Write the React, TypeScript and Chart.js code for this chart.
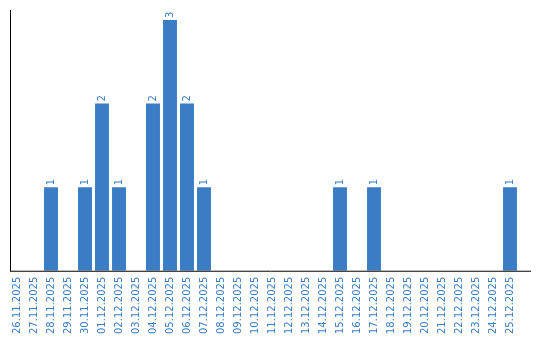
import React, { useEffect, useRef } from "react";
import { Chart, registerables } from "chart.js";

Chart.register(...registerables);

const dates: string[] = [
  "26.11.2025", "27.11.2025", "28.11.2025", "29.11.2025", "30.11.2025",
  "01.12.2025", "02.12.2025", "03.12.2025", "04.12.2025", "05.12.2025",
  "06.12.2025", "07.12.2025", "08.12.2025", "09.12.2025", "10.12.2025",
  "11.12.2025", "12.12.2025", "13.12.2025", "14.12.2025", "15.12.2025",
  "16.12.2025", "17.12.2025", "18.12.2025", "19.12.2025", "20.12.2025",
  "21.12.2025", "22.12.2025", "23.12.2025", "24.12.2025", "25.12.2025",
];

const counts: number[] = [
  0, 0, 1, 0, 1,
  2, 1, 0, 2, 3,
  2, 1, 0, 0, 0,
  0, 0, 0, 0, 1,
  0, 1, 0, 0, 0,
  0, 0, 0, 0, 1,
];

const BLUE = "#3a7dc4";
const FONT = "'DejaVu Sans', Verdana, sans-serif";

const valueLabels = {
  id: "valueLabels",
  afterDatasetsDraw(chart: any) {
    const ctx = chart.ctx;
    const meta = chart.getDatasetMeta(0);
    const data = chart.data.datasets[0].data as number[];
    ctx.save();
    ctx.fillStyle = BLUE;
    ctx.font = `10px ${FONT}`;
    ctx.textAlign = "left";
    ctx.textBaseline = "middle";
    meta.data.forEach((el: any, i: number) => {
      const v = data[i];
      if (!v) return;
      ctx.save();
      ctx.translate(el.x, el.y - 2);
      ctx.rotate(-Math.PI / 2);
      ctx.fillText(String(v), 0, 0);
      ctx.restore();
    });
    ctx.restore();
  },
};

const axisLines = {
  id: "axisLines",
  afterDraw(chart: any) {
    const { ctx, chartArea } = chart;
    ctx.save();
    ctx.strokeStyle = "#000";
    ctx.lineWidth = 1;
    ctx.beginPath();
    ctx.moveTo(10.5, chartArea.top);
    ctx.lineTo(10.5, chartArea.bottom + 0.5);
    ctx.moveTo(10, chartArea.bottom + 0.5);
    ctx.lineTo(531, chartArea.bottom + 0.5);
    ctx.stroke();
    ctx.restore();
  },
};

export default function App() {
  const ref = useRef<HTMLCanvasElement>(null);
  useEffect(() => {
    document.body.style.margin = "0";
    const chart = new Chart(ref.current!, {
      type: "bar",
      data: {
        labels: dates,
        datasets: [
          {
            data: counts,
            backgroundColor: BLUE,
            barPercentage: 0.82,
            categoryPercentage: 1,
          },
        ],
      },
      options: {
        animation: false,
        responsive: false,
        maintainAspectRatio: false,
        layout: { padding: { left: 8.5, top: 10, right: 21.5, bottom: 0 } },
        plugins: { legend: { display: false }, tooltip: { enabled: false } },
        scales: {
          x: {
            grid: { display: false, drawTicks: false },
            border: { display: false },
            ticks: {
              color: BLUE,
              font: { size: 10, family: FONT },
              minRotation: 90,
              maxRotation: 90,
              autoSkip: false,
              padding: 6,
            },
          },
          y: {
            display: false,
            min: 0,
            max: 3.12,
          },
        },
      },
      plugins: [valueLabels, axisLines],
    });
    return () => chart.destroy();
  }, []);
  return (
    <div style={{ width: 540, height: 340 }}>
      <canvas ref={ref} width={540} height={340} style={{ display: "block" }} />
    </div>
  );
}
